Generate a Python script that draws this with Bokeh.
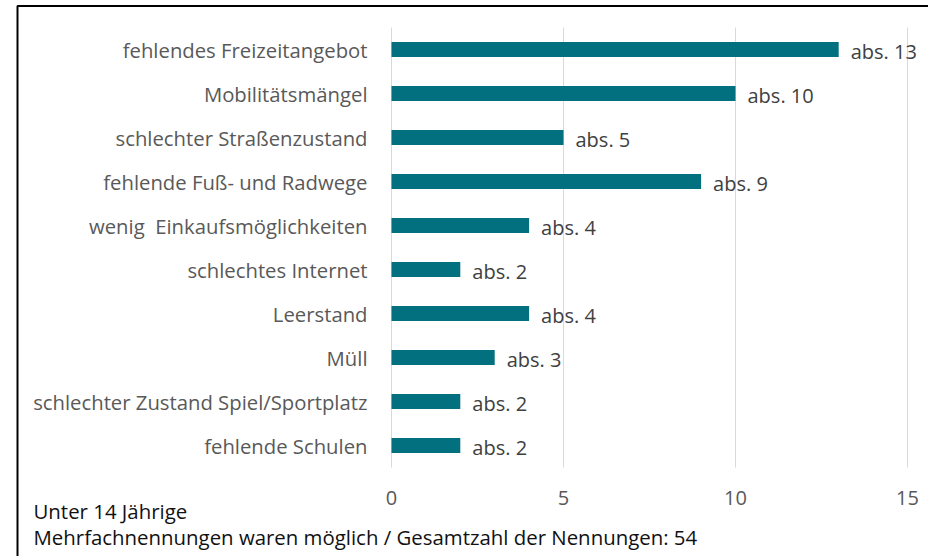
from bokeh.plotting import figure
from bokeh.models import ColumnDataSource, BoxAnnotation, Label, Range1d
from bokeh.core.properties import value
from bokeh.embed import file_html
from bokeh.resources import INLINE

# ---------------- data ----------------
categories = [
    "fehlendes Freizeitangebot",
    "Mobilitätsmängel",
    "schlechter Straßenzustand",
    "fehlende Fuß- und Radwege",
    "wenig\u00a0 Einkaufsmöglichkeiten",
    "schlechtes Internet",
    "Leerstand",
    "Müll",
    "schlechter Zustand Spiel/Sportplatz",
    "fehlende Schulen",
]
counts = [13, 10, 5, 9, 4, 2, 4, 3, 2, 2]
x_ticks = [0, 5, 10, 15]
note_lines = [
    "Unter 14 Jährige",
    "Mehrfachnennungen waren möglich / Gesamtzahl der Nennungen: 54",
]

# ---------------- layout / style ----------------
W, H = 928, 556
X0_PX = 391        # pixel position of value 0
UNIT_PX = 34.4     # pixels per unit
ROW0_PX = 49       # centre of first category row
ROW_PX = 44        # row pitch
FONT = "Open Sans"
BAR = "#03707f"

n = len(categories)
rows = list(range(n))

src = ColumnDataSource(dict(
    row=rows,
    cat=categories,
    val=counts,
    lab=["abs. %d" % v for v in counts],
    zero=[0] * n,
))

p = figure(
    width=W, height=H,
    x_range=Range1d(-X0_PX / UNIT_PX, (W - X0_PX) / UNIT_PX),
    y_range=Range1d((H - ROW0_PX) / ROW_PX, -ROW0_PX / ROW_PX),
    x_axis_location=None, y_axis_location=None,
    output_backend="svg", toolbar_location=None,
    min_border=0,
)
p.min_border_left = p.min_border_right = p.min_border_top = p.min_border_bottom = 0
p.outline_line_color = None
p.background_fill_color = "white"
p.border_fill_color = "white"
p.grid.grid_line_color = None

# vertical grid lines at the value ticks, spanning the category band
p.segment(x0=x_ticks, x1=x_ticks,
          y0=[-0.5] * len(x_ticks), y1=[n - 0.5] * len(x_ticks),
          line_color="#d9d9d9", line_width=1)

# bars
p.hbar(y="row", right="val", left=0, height=0.34, source=src,
       fill_color=BAR, line_color=None)

# value labels
p.text(x="val", y="row", text="lab", source=src,
       x_offset=12, y_offset=2,
       text_font=value(FONT), text_font_size="20px",
       text_color="#404040", text_baseline="middle", text_align="left")

# category labels (left of the value axis)
p.text(x="zero", y="row", text="cat", source=src,
       x_offset=-24, y_offset=0,
       text_font=value(FONT), text_font_size="20.3px",
       text_color="#595959", text_baseline="middle", text_align="right")

# value-axis tick labels
p.text(x=x_ticks, y=[n - 0.5] * len(x_ticks), text=[str(t) for t in x_ticks],
       y_offset=30,
       text_font=value(FONT), text_font_size="20px",
       text_color="#595959", text_baseline="middle", text_align="center")

# outer frame (cut at right / bottom like the reference)
p.add_layout(BoxAnnotation(left=17, right=W + 20, top=5.5, bottom=H + 20,
                           left_units="canvas", right_units="canvas",
                           top_units="canvas", bottom_units="canvas",
                           fill_alpha=0, line_color="black", line_alpha=1.0,
                           line_width=2, level="overlay"))

# notes
for i, t in enumerate(note_lines):
    p.add_layout(Label(x=33, y=510 + i * 26.5, x_units="canvas", y_units="canvas",
                       text=t, text_font=FONT, text_font_size="20.4px",
                       text_color="#111111", text_baseline="alphabetic"))

open("out.html", "w").write(file_html(p, INLINE))
